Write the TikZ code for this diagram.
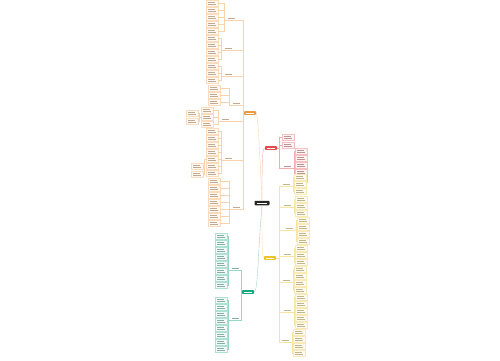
\documentclass[tikz,border=0pt]{standalone}
\definecolor{cor}{HTML}{EE9A45}
\definecolor{cred}{HTML}{E5484D}
\definecolor{cyel}{HTML}{EFC12E}
\definecolor{cgrn}{HTML}{17A97E}
\tikzset{
 blk/.style={draw=#1!35, fill=#1!6, minimum width=12pt, minimum height=6pt, inner sep=0pt, line width=0.25pt,
  path picture={\draw[#1!55!black!50, line width=0.45pt] ([shift={(2pt,1.6pt)}]path picture bounding box.south west) -- ++(8pt,0pt) ([shift={(2pt,3.8pt)}]path picture bounding box.south west) -- ++(7pt,0pt);}},
 lab/.style={minimum width=10pt, minimum height=3.5pt, inner sep=0pt,
  path picture={\draw[#1!55!black!50, line width=0.45pt] ([shift={(1.5pt,1.9pt)}]path picture bounding box.south west) -- ([shift={(-1.5pt,1.9pt)}]path picture bounding box.south east);}},
 con/.style={draw=#1!45, line width=0.35pt},
 rootnode/.style={fill=#1, minimum width=12pt, minimum height=3.6pt, inner sep=0pt, rounded corners=0.6pt,
  path picture={\draw[white, line width=0.5pt] ([shift={(2pt,0pt)}]path picture bounding box.west) -- ([shift={(-2pt,0pt)}]path picture bounding box.east);}},
}
% left group: color, name, spine, labx, laby, blockx, list
\newcommand\Lgrp[7]{%
 \node[lab=#1] (#2) at (#4,#5) {};
 \draw[con=#1] (#3) |- (#2.south east) -- (#2.south west);
 \foreach \yy [count=\n] in {#7} {
   \node[blk=#1] (#2-\n) at (#6,\yy) {};
   \draw[con=#1] (#2.south west) -- ++(-2,0) |- (#2-\n.east);
 }}
\newcommand\Rgrp[7]{%
 \node[lab=#1] (#2) at (#4,#5) {};
 \draw[con=#1] (#3) |- (#2.south west) -- (#2.south east);
 \foreach \yy [count=\n] in {#7} {
   \node[blk=#1] (#2-\n) at (#6,\yy) {};
   \draw[con=#1] (#2.south east) -- ++(2,0) |- (#2-\n.west);
 }}
\begin{document}
\begin{tikzpicture}[x=1pt,y=-1pt]
\fill[white] (0,0) rectangle (500,360);
\useasboundingbox (0,0) rectangle (500,360);

% central
\node[fill=black!85, minimum width=15pt, minimum height=4.5pt, inner sep=0pt, rounded corners=0.8pt,
  path picture={\draw[white, line width=0.6pt] ([shift={(2.5pt,0pt)}]path picture bounding box.west) -- ([shift={(-2.5pt,0pt)}]path picture bounding box.east);}] (c) at (262,203) {};

% roots
\node[rootnode=cor] (ro) at (250,113) {};
\node[rootnode=cred] (rr) at (271,148) {};
\node[rootnode=cyel] (ry) at (270,258) {};
\node[rootnode=cgrn] (rg) at (248,292) {};

\draw[con=cor] (c.north) .. controls (260,160) and (258,113) .. (ro.east);
\draw[con=cred] (c.north) .. controls (262,165) and (262,148) .. (rr.west);
\draw[con=cyel] (c.south) .. controls (262,240) and (262,258) .. (ry.west);
\draw[con=cgrn] (c.south) .. controls (258,250) and (258,292) .. (rg.east);

\coordinate (os) at (243,113);
\coordinate (rs) at (279,148);
\coordinate (ys) at (279,258);
\coordinate (gs) at (241,292);
\draw[con=cor] (ro.west) -- (os);
\draw[con=cred] (rr.east) -- (rs);
\draw[con=cyel] (ry.east) -- (ys);
\draw[con=cgrn] (rg.west) -- (gs);

% orange branch
\Lgrp{cor}{O1}{os}{231}{18}{212}{3,10,17,24,31}
\Lgrp{cor}{O2}{os}{228}{48}{212}{38,45,52,59}
\Lgrp{cor}{O3}{os}{228}{74}{212}{66,73,80}
\Lgrp{cor}{O4}{os}{236}{103}{214}{88,95,102}
\Lgrp{cor}{O5}{os}{225}{119}{207}{110,117,124}
\Lgrp{cor}{O6}{os}{228}{158}{212}{131,138,145,152,159,166,173}
\Lgrp{cor}{O7}{os}{236}{207}{214}{181,188,195,202,209,216,223}
\node[blk=cor] (O5a) at (192,113) {};
\node[blk=cor] (O5b) at (192,121) {};
\draw[con=cor] (O5-2.west) -- ++(-1.5,0) |- (O5a.east);
\draw[con=cor] (O5-2.west) -- ++(-1.5,0) |- (O5b.east);
\node[blk=cor] (O6a) at (197,166) {};
\node[blk=cor] (O6b) at (197,174) {};
\draw[con=cor] (O6-5.west) -- ++(-1.5,0) |- (O6a.east);
\draw[con=cor] (O6-5.west) -- ++(-1.5,0) |- (O6b.east);

% red branch
\node[blk=cred] (R1) at (288,137) {};
\node[blk=cred] (R2) at (288,145) {};
\draw[con=cred] (rs) |- (R1.west);
\draw[con=cred] (rs) |- (R2.west);
\Rgrp{cred}{R3}{rs}{287}{166}{301}{151,158,165,172,179}

% yellow branch
\Rgrp{cyel}{Y1}{ys}{286}{184}{300}{177,184,191}
\Rgrp{cyel}{Y2}{ys}{287}{205}{301}{199,206,213}
\Rgrp{cyel}{Y3}{ys}{289}{228}{303}{220,227,234,241}
\Rgrp{cyel}{Y4}{ys}{287}{254}{301}{248,255,262}
\Rgrp{cyel}{Y5}{ys}{286}{280}{300}{269,276,283,290}
\Rgrp{cyel}{Y6}{ys}{287}{310}{301}{297,304,311,318,325}
\Rgrp{cyel}{Y7}{ys}{285}{340}{299}{332,339,346,353}

% green branch
\Lgrp{cgrn}{G1}{gs}{235}{268}{221}{236,243,250,257,264,271,278,285}
\Lgrp{cgrn}{G2}{gs}{235}{318}{221}{300,307,314,321,328,335,342,349}
\end{tikzpicture}
\end{document}
